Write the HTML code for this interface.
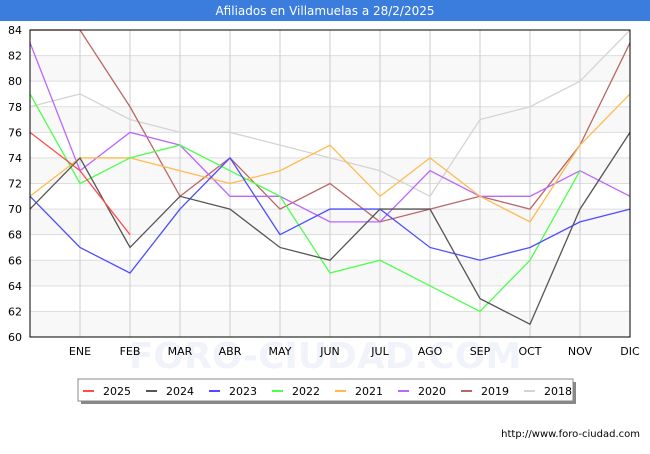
<!DOCTYPE html>
<html><head><meta charset="utf-8"><style>
body{margin:0;width:650px;height:450px;background:#fff;font-family:"DejaVu Sans","Liberation Sans",sans-serif;overflow:hidden}
</style></head><body>
<svg id="c" width="650" height="450" xmlns="http://www.w3.org/2000/svg">
<rect x="0" y="0" width="650" height="21" fill="#3b7ddd"/>
<text x="325" y="15" text-anchor="middle" fill="#fff" font-size="12">Afiliados en Villamuelas a 28/2/2025</text>
<text x="325" y="368" text-anchor="middle" fill="#f1f3fa" font-size="36" font-weight="bold">FORO-CIUDAD.COM</text>
<g id="grid"></g>
<g id="lines"></g>
<rect x="30" y="30" width="600" height="307" fill="none" stroke="#000"/>
<g id="legend"></g>
<text x="640" y="437" text-anchor="end" font-size="10" fill="#000">http://www.foro-ciudad.com</text>
</svg>
<script>
const months=["","ENE","FEB","MAR","ABR","MAY","JUN","JUL","AGO","SEP","OCT","NOV","DIC"];
const yTicks=[60,62,64,66,68,70,72,74,76,78,80,82,84];
const seriesNames=["2025","2024","2023","2022","2021","2020","2019","2018"];
const colors=["#ff4d4d","#555555","#4d4dff","#4dff4d","#ffbb4d","#bb66ff","#bb6666","#d4d4d4"];
const s2025=[76,73,68];
const s2024=[70,74,67,71,70,67,66,70,70,63,61,70,76];
const s2023=[71,67,65,70,74,68,70,70,67,66,67,69,70];
const s2022=[79,72,74,75,73,71,65,66,64,62,66,73];
const s2021=[71,74,74,73,72,73,75,71,74,71,69,75,79];
const s2020=[83,73,76,75,71,71,69,69,73,71,71,73,71];
const s2019=[84,84,78,71,74,70,72,69,70,71,70,75,83];
const s2018=[78,79,77,76,76,75,74,73,71,77,78,80,84];
const data=[s2025,s2024,s2023,s2022,s2021,s2020,s2019,s2018];
const NS="http://www.w3.org/2000/svg";
const X=i=>30+i*50, Y=v=>337-(v-60)*307/24;
function mk(t,a,p){const e=document.createElementNS(NS,t);for(const k in a)e.setAttribute(k,a[k]);p.appendChild(e);return e;}
const g=document.getElementById('grid');
for(let i=0;i<yTicks.length-1;i++){if(i%2===0){const r=mk('rect',{x:30,y:Y(yTicks[i+1]),width:600,height:Y(yTicks[i])-Y(yTicks[i+1]),fill:'#f8f8f8'},g);

}}
yTicks.forEach(v=>{const l=mk('line',{x1:30,x2:630,y1:Y(v),y2:Y(v),stroke:'#ddd'},g);


const t=mk('text',{x:22,y:Y(v)+4,'text-anchor':'end','font-size':11},g);t.textContent=v;

});
months.forEach((m,i)=>{if(i>0){const l=mk('line',{x1:X(i),x2:X(i),y1:30,y2:337,stroke:'#ccc'},g);


const t=mk('text',{x:X(i),y:355,'text-anchor':'middle','font-size':11},g);t.textContent=m;

}});
const L=document.getElementById('lines');
for(let k=data.length-1;k>=0;k--){const p=mk('polyline',{points:data[k].map((v,i)=>X(i)+','+Y(v)).join(' '),fill:'none',stroke:colors[k],'stroke-width':1.3},L);

}
const lg=document.getElementById('legend');
mk('rect',{x:81,y:382,width:495,height:22,fill:'#888'},lg);
const b=mk('rect',{x:78,y:379,width:495,height:22,fill:'#fff',stroke:'#888'},lg);


seriesNames.forEach((n,k)=>{const x0=83+k*63;
const ln=mk('line',{x1:x0,x2:x0+11,y1:391,y2:391,stroke:colors[k],'stroke-width':2},lg);


const t=mk('text',{x:x0+20,y:395,'font-size':11},lg);t.textContent=n;

});
</script>
</body></html>
